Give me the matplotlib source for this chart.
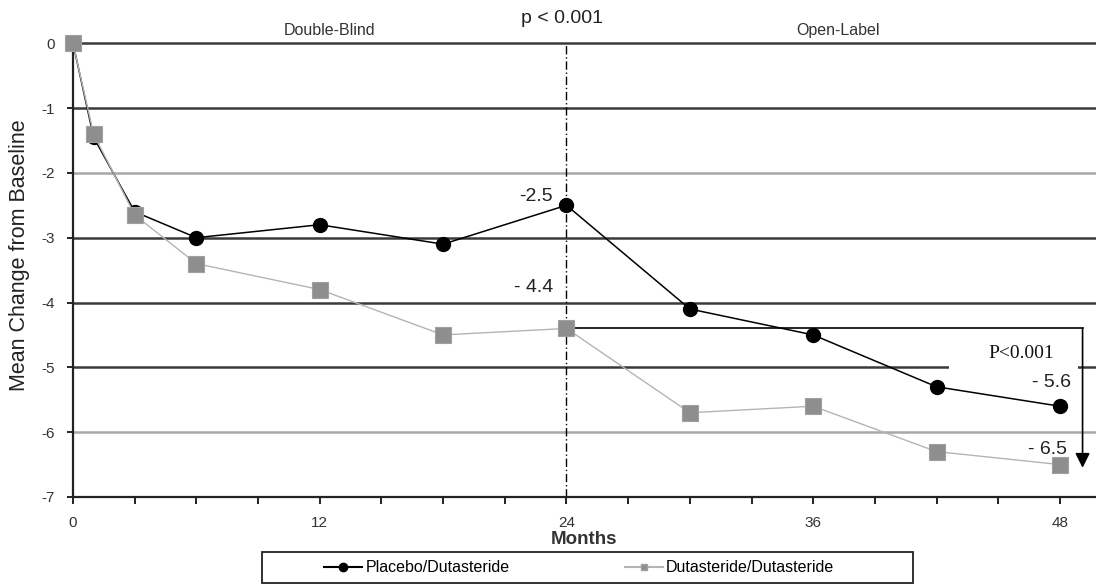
import matplotlib
matplotlib.use("Agg")
import matplotlib.pyplot as plt
from matplotlib.patches import Rectangle
from matplotlib.lines import Line2D
import matplotlib.transforms as mtransforms

plt.rcParams["font.family"] = ["Liberation Sans", "DejaVu Sans"]

# ---------------------------------------------------------------------------
# Data
# ---------------------------------------------------------------------------
months = [0, 1, 3, 6, 12, 18, 24, 30, 36, 42, 48]
placebo_duta = [0.0, -1.45, -2.6, -3.0, -2.8, -3.1, -2.5, -4.1, -4.5, -5.3, -5.6]
duta_duta = [0.0, -1.4, -2.65, -3.4, -3.8, -4.5, -4.4, -5.7, -5.6, -6.3, -6.5]

y_ticks = [0, -1, -2, -3, -4, -5, -6, -7]
x_major = [0, 12, 24, 36, 48]
x_minor = list(range(0, 49, 3))
light_grid = {-2, -6}

switch_month = 24          # double-blind -> open-label
label_25 = "-2.5"
label_44 = "- 4.4"
label_56 = "- 5.6"
label_65 = "- 6.5"

# ---------------------------------------------------------------------------
fig = plt.figure(figsize=(10.96, 5.84), dpi=100)
ax = fig.add_axes([0.0666, 0.149, 0.9324, 0.777])

ax.set_xlim(0, 49.7)
ax.set_ylim(-7, 0)

# horizontal grid lines (dark, except -2 and -6)
for yv in y_ticks[:-1]:
    c = "#a8a8a8" if yv in light_grid else "#3a3a3a"
    ax.axhline(yv, color=c, lw=1.8, zorder=0.5, clip_on=False)

# white box where the P<0.001 label sits (cuts the -5 grid line)
ax.add_patch(Rectangle((42.6, -5.12), 6.3, 0.24, facecolor="white",
                       edgecolor="none", zorder=0.8))

# period separator
ax.axvline(switch_month, color="black", lw=1.0,
           linestyle=(0, (6, 2, 1, 2)), zorder=1)

# series
ax.plot(months, placebo_duta, color="black", lw=1.1, marker="o",
        markersize=10, markerfacecolor="black", markeredgecolor="black",
        zorder=3, clip_on=False)
ax.plot(months, duta_duta, color="#b4b4b4", lw=1.0, marker="s",
        markersize=11, markerfacecolor="#8e8e8e", markeredgecolor="#a0a0a0",
        markeredgewidth=0.8, zorder=4, clip_on=False)

# difference bracket: horizontal from month 24, then arrow down
x_br = 49.1
ax.plot([switch_month, x_br], [duta_duta[6], duta_duta[6]],
        color="black", lw=1.2, zorder=2)
ax.annotate("", xy=(x_br, duta_duta[-1] - 0.05), xytext=(x_br, duta_duta[6]),
            arrowprops=dict(arrowstyle="-|>", color="black", lw=1.2,
                            mutation_scale=22, shrinkA=0, shrinkB=0),
            zorder=2)

# value labels
ax.text(22.5, -2.37, label_25, fontsize=14, ha="center", va="center", color="#222222")
ax.text(22.4, -3.77, label_44, fontsize=14, ha="center", va="center", color="#222222")
ax.text(46.1, -4.78, "P<0.001", fontsize=14, ha="center", va="center",
        family=["Liberation Serif", "DejaVu Serif"], color="#111111")
ax.text(47.6, -5.24, label_56, fontsize=14, ha="center", va="center", color="#222222")
ax.text(47.4, -6.26, label_65, fontsize=14, ha="center", va="center", color="#222222")

# headings above the plot
trans = mtransforms.blended_transform_factory(ax.transData, ax.transAxes)
ax.text(12.5, 1.029, "Double-Blind", transform=trans, fontsize=11.5,
        ha="center", va="center", color="#333333")
ax.text(37.2, 1.029, "Open-Label", transform=trans, fontsize=11.5,
        ha="center", va="center", color="#333333")
ax.text(23.8, 1.055, "p < 0.001", fontsize=14, transform=trans,
        ha="center", va="center", color="#222222")

# axes cosmetics
for side in ("top", "right"):
    ax.spines[side].set_visible(False)
for side in ("left", "bottom"):
    ax.spines[side].set_linewidth(1.6)
    ax.spines[side].set_color("#222222")

ax.set_yticks(y_ticks)
ax.set_yticklabels([str(v) for v in y_ticks])
ax.set_xticks(x_major)
ax.set_xticks(x_minor, minor=True)
ax.tick_params(axis="both", which="both", direction="out", color="#222222",
               labelsize=11, labelcolor="#333333")
ax.tick_params(axis="x", which="major", length=5, width=1.4, pad=9)
ax.tick_params(axis="x", which="minor", length=5, width=1.4)
ax.tick_params(axis="y", which="major", length=4, width=1.4, pad=9)

ax.set_xlabel("Months", fontsize=13.5, fontweight="bold", color="#333333")
ax.xaxis.set_label_coords(0.5, -0.075)
ax.set_ylabel("Mean Change from Baseline", fontsize=15.5, color="#222222")
ax.yaxis.set_label_coords(-0.042, 0.533)

# legend: outer box drawn separately, entries placed inside
fig.add_artist(Rectangle((262 / 1096, 1 / 584), 651 / 1096, 31 / 584,
                         transform=fig.transFigure, facecolor="white",
                         edgecolor="#222222", lw=1.3))
handles = [
    Line2D([0], [0], color="black", lw=1.5, marker="o", markersize=6,
           markerfacecolor="black", label="Placebo/Dutasteride"),
    Line2D([0], [0], color="#b4b4b4", lw=1.5, marker="s", markersize=4,
           markerfacecolor="#8e8e8e", markeredgecolor="#a0a0a0",
           label="Dutasteride/Dutasteride"),
]
fig.legend(handles=handles, loc="center left", ncol=2,
           bbox_to_anchor=(324 / 1096, 16 / 584), frameon=False,
           fontsize=11.5, borderpad=0, borderaxespad=0,
           handlelength=2.4, handletextpad=0.2, columnspacing=7.2)

fig.savefig("out.png", dpi=100)
